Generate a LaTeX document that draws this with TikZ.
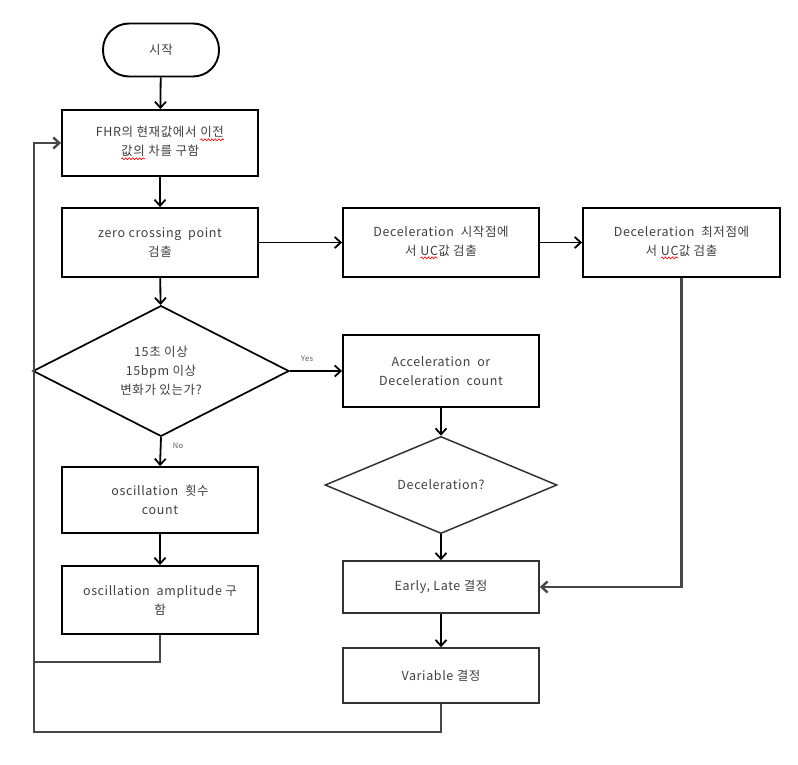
\documentclass[tikz,border=0pt]{standalone}
\usepackage{fontspec}
\setmainfont[LetterSpace=5]{Noto Sans CJK KR}
\usetikzlibrary{shapes.geometric,arrows.meta,decorations.pathmorphing}
\newcommand\redsq[1]{\tikz[baseline=(w.base)]{\node[shape=rectangle, draw=none, fill=none, rounded corners=0pt, inner sep=0pt, outer sep=0pt, minimum width=0pt, minimum height=0pt, anchor=base] (w) {#1};
  \draw[red, line width=0.6pt, rounded corners=0pt, decorate, decoration={snake, amplitude=1pt, segment length=3.5pt}] ([yshift=-2.5pt]w.south west) -- ([yshift=-2.5pt]w.south east);}}
\begin{document}
\begin{tikzpicture}[x=1pt,y=-1pt,
  font=\fontsize{12.5}{19}\selectfont,
  box/.style={draw=black, line width=1.9pt, minimum width=196pt, inner sep=2pt, align=center, text=black!75},
  lbox/.style={box, draw=black!80, line width=1.6pt},
  dia/.style={diamond, draw=black, line width=1.7pt, inner sep=0pt, align=center, text=black!75},
  arr/.style={line width=1.8pt, -{Straight Barb[length=6pt,width=11pt]}},
  loopl/.style={draw=black!72, line width=2.4pt},
  lab/.style={font=\fontsize{7.5}{8}\selectfont, text=black!65}]
\useasboundingbox[fill=white] (0,0) rectangle (798,765);

\node[box, rounded corners=26pt, minimum width=116pt, minimum height=53pt] (start) at (161,50) {시작};
\node[box, minimum height=66pt] (fhr) at (160,143) {FHR의 현재값에서 \redsq{이전}\\\redsq{값의} 차를 구함};
\node[box, minimum height=69pt] (zc) at (160,242.5) {zero crossing \ point\\검출};
\node[dia, minimum width=256pt, minimum height=122pt] (d1) at (161,371) {15초 이상\\15bpm 이상\\변화가 있는가?};
\node[box, minimum height=69pt] (b3) at (441,242.5) {Deceleration \ 시작점에\\서 \redsq{UC}값 검출};
\node[box, minimum width=197pt, minimum height=69pt] (b4) at (681.5,242.5) {Deceleration \ 최저점에\\서 \redsq{UC}값 검출};
\node[box, minimum height=72pt] (b5) at (441,371) {Acceleration \ or\\Deceleration \ count};
\node[dia, draw=black!80, line width=1.5pt, minimum width=232pt, minimum height=80pt] (d2) at (441,485) {Deceleration?};
\node[lbox, minimum height=52pt] (b6) at (441,587) {Early, Late 결정};
\node[lbox, minimum height=55pt] (b7) at (441,675.5) {Variable 결정};
\node[box, minimum height=66pt] (b8) at (160,500) {oscillation \ 횟수\\count};
\node[box, minimum height=68pt] (b9) at (160,600) {oscillation \ amplitude 구\\함};

\coordinate (c1) at (34,662);
\coordinate (c2) at (34,732);
\coordinate (c3) at (34,143);

\draw[arr] (start) -- (fhr);
\draw[arr] (fhr) -- (zc);
\draw[arr] (zc) -- (d1);
\draw[arr] (zc) -- (b3);
\draw[arr] (b3) -- (b4);
\draw[arr] (d1.east) -- node[lab, pos=0.33, above=5pt] {Yes} (b5.west);
\draw[arr] (d1.south) -- node[lab, pos=0.3, right=8pt] {No} (b8.north);
\draw[arr] (b5) -- (d2);
\draw[arr] (d2) -- (b6);
\draw[arr] (b6) -- (b7);
\draw[arr] (b8) -- (b9);
\draw[arr, loopl] (b4.south) |- (b6.east);
\draw[loopl] (b9.south) |- (c1);
\draw[arr, loopl] (b7.south) |- (c2) -- (c3) -- (fhr.west);
\end{tikzpicture}
\end{document}
